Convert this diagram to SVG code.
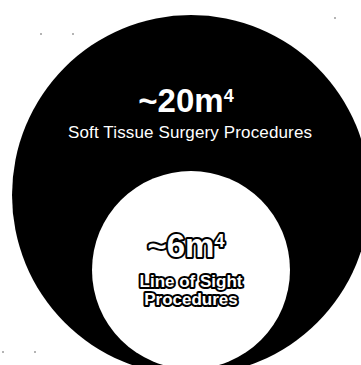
<svg xmlns="http://www.w3.org/2000/svg" width="361" height="365" viewBox="0 0 361 365">
<style>
.big{font-family:"Liberation Sans",Arial,sans-serif;font-weight:bold;text-anchor:middle}
.w{fill:#fff}
.out{fill:#fff;stroke:#000;stroke-width:4;stroke-linejoin:round;paint-order:stroke}
.sub{font-family:"Liberation Sans",Arial,sans-serif;text-anchor:middle}
</style>
<rect width="361" height="365" fill="#fff"/>
<g id="outer">
<ellipse cx="191" cy="195" rx="179" ry="180" fill="#000"/>
<text class="big w" x="186" y="112" font-size="33">~20m<tspan font-size="18" dy="-10">4</tspan></text>
<text class="sub w" x="190" y="138" font-size="17" textLength="244">Soft Tissue Surgery Procedures</text>
</g>
<g id="inner">
<circle cx="191" cy="270" r="99" fill="#fff"/>
<text class="big out" x="186" y="257" font-size="33">~6m<tspan font-size="18" dy="-10">4</tspan></text>
<text class="sub out" x="191" y="287" font-size="17" font-weight="bold">Line of Sight</text>
<text class="sub out" x="191" y="305" font-size="17" font-weight="bold">Procedures</text>
</g>
<g id="specks" fill="#555">
<circle cx="335" cy="18" r="0.8"/>
<circle cx="41" cy="34" r="0.8"/>
<circle cx="73" cy="34" r="0.8"/>
<circle cx="3" cy="352" r="0.8"/>
<circle cx="35" cy="352" r="0.8"/>
</g>
</svg>
